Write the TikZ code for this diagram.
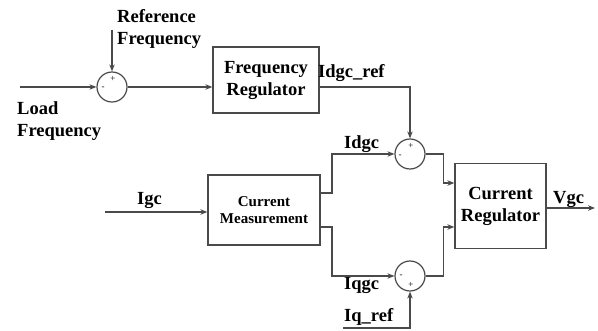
\documentclass[tikz,border=0pt]{standalone}
\usepackage{fontspec}
\setmainfont{Liberation Serif}
\usetikzlibrary{arrows.meta}
\definecolor{ln}{HTML}{4A4A4A}
\tikzset{
  wire/.style={draw=ln, line width=1.2pt},
  arr/.style={wire, -{Stealth[length=7pt,width=5.5pt]}},
  blk/.style={draw=ln, line width=1.3pt, fill=white, align=center, inner sep=0pt,
              font=\fontsize{18.5}{22}\selectfont\bfseries},
  sumc/.style={circle, draw=ln, line width=1.2pt, minimum size=30pt, inner sep=0pt},
  lbl/.style={inner sep=0pt, font=\fontsize{18.5}{22}\selectfont\bfseries, align=left},
  sgn/.style={inner sep=0pt, font=\fontsize{9}{9}\selectfont}
}
\begin{document}
\begin{tikzpicture}[x=1pt, y=-1pt]
\useasboundingbox (0,0) rectangle (598,331);
% blocks
\node[blk, minimum width=106pt, minimum height=66pt] (fr) at (266,80) {Frequency\\Regulator};
\node[blk, minimum width=112pt, minimum height=70pt, font=\fontsize{15}{17}\selectfont\bfseries] (cm) at (264,210) {Current\\Measurement};
\node[blk, minimum width=91pt, minimum height=85pt] (cr) at (500.5,206) {Current\\Regulator};
% summing junctions
\node[sumc] (s1) at (112,87) {};
\node[sumc] (s2) at (410,154) {};
\node[sumc] (s3) at (410,276) {};
% signs
\node[sgn] (s1p) at ([xshift=1pt,yshift=8pt]s1.center) {+};
\node[sgn] (s1m) at ([xshift=-9pt,yshift=-1pt]s1.center) {-};
\node[sgn] (s2p) at ([xshift=1pt,yshift=8pt]s2.center) {+};
\node[sgn] (s2m) at ([xshift=-10pt,yshift=-2pt]s2.center) {-};
\node[sgn] (s3m) at ([xshift=-9pt,yshift=0pt]s3.center) {-};
\node[sgn] (s3p) at ([xshift=1pt,yshift=-9pt]s3.center) {+};
% free ends
\coordinate (loadin) at (20,87);
\coordinate (refin) at (112,30);
\coordinate (igcin) at (105,212);
\coordinate (iqin) at (343,328);
\coordinate (vgcout) at (595,208);
\coordinate (cmu) at (320,193);
\coordinate (cml) at (320,227);
% labels
\node[lbl, anchor=west] (tref) at (117,28.5) {Reference\\Frequency};
\node[lbl, anchor=west] (tload) at (17,121) {Load\\Frequency};
\node[lbl, anchor=base west] (tidref) at (318,78) {Idgc\_ref};
\node[lbl, anchor=base west] (tidgc) at (344,149) {Idgc};
\node[lbl, anchor=base west] (tiqgc) at (344,290) {Iqgc};
\node[lbl, anchor=base west] (tiqref) at (344,322) {Iq\_ref};
\node[lbl, anchor=base west] (tigc) at (137,205) {Igc};
\node[lbl, anchor=base west] (tvgc) at (553,204) {Vgc};
% connectors
\draw[arr] (loadin) -- (s1.west);
\draw[arr] (refin) -- (s1.north);
\draw[arr] (s1.east) -- (s1.east -| fr.west);
\draw[arr] (s1.east -| fr.east) -| (s2.north);
\draw[arr] (igcin) -- (igcin -| cm.west);
\draw[arr] (cmu) -- ++(12,0) |- (s2.west);
\draw[arr] (cml) -- ++(12,0) |- (s3.west);
\draw[arr] (s2.east) -- ++(18,0) |- (cr.west |- 0,183);
\draw[arr] (s3.east) -- ++(18,0) |- (cr.west |- 0,227);
\draw[arr] (cr.east |- vgcout) -- (vgcout);
\draw[arr] (iqin) -| (s3.south);
\end{tikzpicture}
\end{document}
